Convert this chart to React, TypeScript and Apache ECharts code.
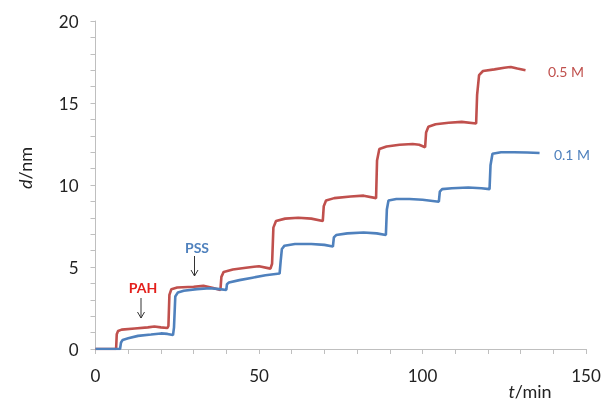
import React, { useEffect, useRef } from "react";
import * as echarts from "echarts";

// t (min), d (nm)
const red05M: [number, number][] = [
  [0, 0], [6.3, 0], [6.5, 0.9], [6.9, 1.1], [8, 1.18], [12, 1.25], [16, 1.32], [18, 1.37], [20, 1.32], [22, 1.28],
  [22.3, 1.4], [22.6, 3.3], [23.2, 3.65], [25, 3.75], [30, 3.8], [33, 3.85], [36, 3.72], [38.2, 3.6],
  [38.5, 4.4], [39.2, 4.7], [42, 4.85], [46, 4.95], [50, 5.05], [53.5, 4.9],
  [54, 5.2], [54.4, 7.4], [55.2, 7.8], [58, 7.95], [62, 8.0], [66, 7.95], [69.5, 7.8],
  [69.8, 8.7], [70.5, 9.05], [73, 9.2], [78, 9.3], [82, 9.35], [85.8, 9.2],
  [86.1, 11.5], [86.8, 12.2], [89, 12.35], [93, 12.45], [97, 12.5], [99, 12.45], [100.8, 12.3],
  [101.1, 13.2], [101.8, 13.55], [104, 13.7], [108, 13.8], [112, 13.85], [116.4, 13.75],
  [116.7, 15.5], [117.3, 16.7], [118.5, 16.95], [122, 17.05], [125, 17.15], [127, 17.2], [129, 17.1], [131.5, 17.0],
];

const blue01M: [number, number][] = [
  [0, 0], [7.5, 0], [7.8, 0.4], [8.3, 0.55], [10, 0.65], [13, 0.8], [17, 0.88], [20, 0.95], [22, 0.92], [23.7, 0.85],
  [24, 1.3], [24.4, 3.2], [25.2, 3.45], [27, 3.55], [31, 3.65], [35, 3.7], [38, 3.65], [40, 3.6],
  [40.2, 3.95], [40.8, 4.05], [44, 4.2], [48, 4.35], [52, 4.5], [56.3, 4.6],
  [56.6, 5.3], [57, 6.1], [57.8, 6.3], [61, 6.4], [66, 6.4], [70, 6.35], [72.6, 6.25],
  [72.9, 6.8], [73.6, 6.95], [77, 7.05], [82, 7.1], [86, 7.05], [88.8, 6.95],
  [89.1, 8.5], [89.6, 9.05], [92, 9.15], [96, 9.15], [100, 9.1], [105, 8.98],
  [105.3, 9.6], [106, 9.75], [109, 9.8], [114, 9.85], [118, 9.8], [120.5, 9.75],
  [120.8, 11.2], [121.4, 11.9], [124, 12.0], [128, 12.0], [132, 11.98], [135.8, 11.95],
];

const seriesNames = ["0.5 M", "0.1 M"];
const annotations = ["PAH", "PSS"];

const RED = "#C0504D";
const BLUE = "#4F81BD";
const FONT = "Lato";

export default function App() {
  const ref = useRef<HTMLDivElement>(null);
  useEffect(() => {
    if (!ref.current) return;
    const chart = echarts.init(ref.current, null, { renderer: "svg" });
    const axisCommon = {
      axisLine: { show: true, lineStyle: { color: "#BFBFBF", width: 1 } },
      axisTick: { show: true, inside: false, length: 5, lineStyle: { color: "#BFBFBF" } },
      minorTick: { show: true, splitNumber: 5, length: 5, lineStyle: { color: "#BFBFBF" } },
      splitLine: { show: false },
      minorSplitLine: { show: false },
      axisLabel: { color: "#222", fontFamily: FONT, fontSize: 17 },
    };
    const arrow = (x: number, y1: number, y2: number) => [
      { type: "line", shape: { x1: x, y1, x2: x, y2 }, style: { stroke: "#333", lineWidth: 1 } },
      {
        type: "polyline",
        shape: { points: [[x - 3.5, y2 - 6], [x, y2], [x + 3.5, y2 - 6]] },
        style: { stroke: "#333", lineWidth: 1, fill: "none" },
      },
    ];
    chart.setOption({
      animation: false,
      grid: { left: 95.5, right: 19, top: 21, bottom: 54, containLabel: false },
      xAxis: {
        type: "value",
        min: 0,
        max: 150,
        interval: 50,
        ...axisCommon,
        axisLabel: { ...axisCommon.axisLabel, margin: 18 },
      },
      yAxis: {
        type: "value",
        min: 0,
        max: 20,
        interval: 5,
        ...axisCommon,
        axisLabel: { ...axisCommon.axisLabel, margin: 17 },
      },
      series: [
        {
          name: seriesNames[0],
          type: "line",
          data: red05M,
          showSymbol: false,
          lineStyle: { color: RED, width: 2.6 },
          itemStyle: { color: RED },
          z: 2,
        },
        {
          name: seriesNames[1],
          type: "line",
          data: blue01M,
          showSymbol: false,
          lineStyle: { color: BLUE, width: 2.6 },
          itemStyle: { color: BLUE },
          z: 3,
        },
      ],
      graphic: [
        {
          type: "text",
          x: 25,
          y: 168,
          rotation: Math.PI / 2,
          style: {
            text: "{i|d}/nm",
            align: "center",
            verticalAlign: "middle",
            fontFamily: FONT,
            fontSize: 18,
            fill: "#222",
            rich: { i: { fontStyle: "italic", fontFamily: FONT, fontSize: 18, fill: "#222" } },
          },
        },
        {
          type: "text",
          x: 530,
          y: 391,
          style: {
            text: "{i|t}/min",
            align: "center",
            verticalAlign: "middle",
            fontFamily: FONT,
            fontSize: 18,
            fill: "#222",
            rich: { i: { fontStyle: "italic", fontFamily: FONT, fontSize: 18, fill: "#222" } },
          },
        },
        {
          type: "text",
          x: 143,
          y: 287,
          style: { text: annotations[0], align: "center", verticalAlign: "middle", fontFamily: FONT, fontWeight: "bold", fontSize: 14, fill: "#E3201C" },
        },
        {
          type: "text",
          x: 197,
          y: 247,
          style: { text: annotations[1], align: "center", verticalAlign: "middle", fontFamily: FONT, fontWeight: "bold", fontSize: 14, fill: BLUE },
        },
        ...arrow(141, 298, 318),
        ...arrow(194.5, 256, 276),
        {
          type: "text",
          x: 566,
          y: 71.5,
          style: { text: seriesNames[0], align: "center", verticalAlign: "middle", fontFamily: FONT, fontSize: 14, fill: RED },
        },
        {
          type: "text",
          x: 572,
          y: 154,
          style: { text: seriesNames[1], align: "center", verticalAlign: "middle", fontFamily: FONT, fontSize: 14, fill: BLUE },
        },
      ],
    });
    return () => chart.dispose();
  }, []);
  return <div ref={ref} style={{ position: "fixed", left: 0, top: 0, width: 605, height: 403 }} />;
}
